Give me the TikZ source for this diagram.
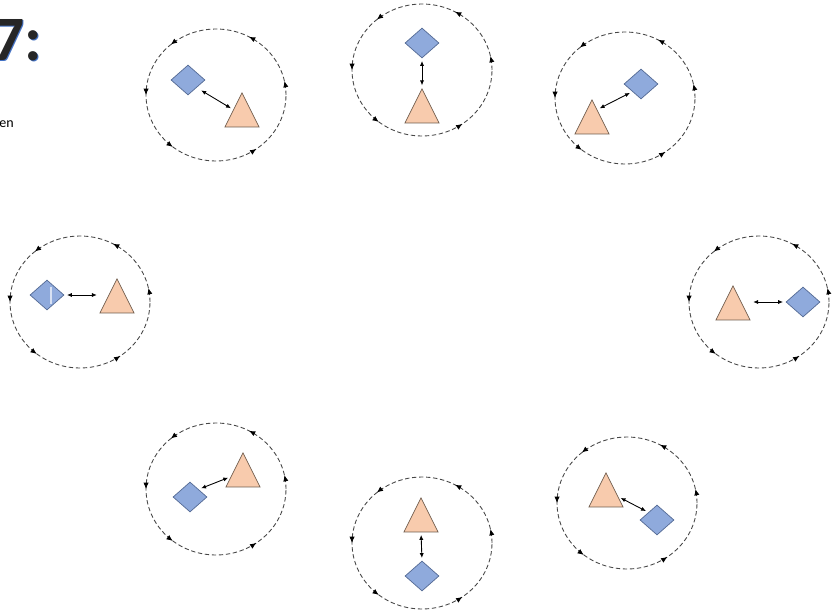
\documentclass[tikz,border=0pt]{standalone}
\usepackage{fontspec}
\setmainfont{Carlito}
\usetikzlibrary{shapes.geometric,arrows.meta,decorations.markings,calc}
\definecolor{rhombfill}{RGB}{143,170,220}
\definecolor{rhombline}{RGB}{84,106,148}
\definecolor{trifill}{RGB}{248,203,173}
\definecolor{triline}{RGB}{110,90,75}
\definecolor{orbitline}{RGB}{70,70,70}
\definecolor{shadowblue}{RGB}{68,114,196}
\tikzset{
  orbit/.style={ellipse,draw=orbitline,line width=0.5pt,dash pattern=on 2.5pt off 1.5pt,
    minimum width=2.8cm,minimum height=2.64cm,inner sep=0pt,
    postaction={decorate,decoration={markings,
      mark=at position 0.033 with {\arrow[black]{Latex[length=3.6pt,width=3pt]}},
      mark=at position 0.17 with {\arrow[black]{Latex[length=3.6pt,width=3pt]}},
      mark=at position 0.364 with {\arrow[black]{Latex[length=3.6pt,width=3pt]}},
      mark=at position 0.5 with {\arrow[black]{Latex[length=3.6pt,width=3pt]}},
      mark=at position 0.642 with {\arrow[black]{Latex[length=3.6pt,width=3pt]}},
      mark=at position 0.85 with {\arrow[black]{Latex[length=3.6pt,width=3pt]}}}}},
  rhomb/.style={diamond,draw=rhombline,fill=rhombfill,line width=0.4pt,
    minimum width=0.68cm,minimum height=0.6cm,inner sep=0pt},
  tri/.style={isosceles triangle,isosceles triangle stretches,shape border rotate=90,
    draw=triline,fill=trifill,line width=0.4pt,minimum width=0.68cm,minimum height=0.68cm,
    inner sep=0pt,anchor=apex},
  link/.style={<->,>={Latex[length=2.8pt,width=2.4pt]},line width=0.5pt,
    shorten <=1.5pt,shorten >=1.5pt}
}
\begin{document}
\begin{tikzpicture}[x=0.02cm,y=-0.02cm]
\useasboundingbox (0,0) rectangle (834,615);
% heading, cut at the left edge
\node[anchor=base west,text=shadowblue,font=\bfseries\fontsize{36}{36}\selectfont,inner sep=0pt] (titleshadow) at (-7,62) {7:};
\node[anchor=base west,text=black!85,font=\bfseries\fontsize{36}{36}\selectfont,inner sep=0pt] (title) at (-8,61) {7:};
\node[anchor=base east,font=\fontsize{8}{10}\selectfont,inner sep=0pt] (entext) at (14,127) {en};
% orbits
\node[orbit] (c1) at (216,95) {};
\node[orbit] (c2) at (422,70) {};
\node[orbit] (c3) at (625,98) {};
\node[orbit] (c4) at (80,302) {};
\node[orbit] (c5) at (759,302) {};
\node[orbit] (c6) at (422,543) {};
\node[orbit] (c7) at (216,489) {};
\node[orbit] (c8) at (627,503) {};
% diamonds
\node[rhomb] (d1) at (188,80) {};
\node[rhomb] (d2) at (422,43) {};
\node[rhomb] (d3) at (641,84) {};
\node[rhomb] (d4) at (47,295) {};
\node[rhomb] (d5) at (803,302) {};
\node[rhomb] (d6) at (422,576) {};
\node[rhomb] (d7) at (190,497) {};
\node[rhomb] (d8) at (657,520) {};
\draw[white!65!rhombfill,line width=0.8pt] ($(d4.center)+(4,-8)$) -- ($(d4.center)+(4,9)$);
% triangles
\node[tri] (t1) at (242,92) {};
\node[tri] (t2) at (422,88) {};
\node[tri] (t3) at (592,99) {};
\node[tri] (t4) at (117,278) {};
\node[tri] (t5) at (733,285) {};
\node[tri] (t6) at (421,497) {};
\node[tri] (t7) at (243,452) {};
\node[tri] (t8) at (606,472) {};
% links
\draw[link,shorten <=3pt] (d1.south east) -- (t1.left side);
\draw[link] (d2.south) -- (t2.apex);
\draw[link] (d3.south west) -- ($(t3.apex)!0.3!(t3.right corner)$);
\draw[link] (d4.east) -- (d4.east -| t4.left corner);
\draw[link] (d5.west) -- (d5.west -| t5.right corner);
\draw[link] (t6.lower side) -- (d6.north);
\draw[link] (d7.north east) -- ($(t7.left corner)!0.3!(t7.apex)$);
\draw[link] (d8.north west) -- ($(t8.apex)!0.7!(t8.right corner)$);
\end{tikzpicture}
\end{document}
